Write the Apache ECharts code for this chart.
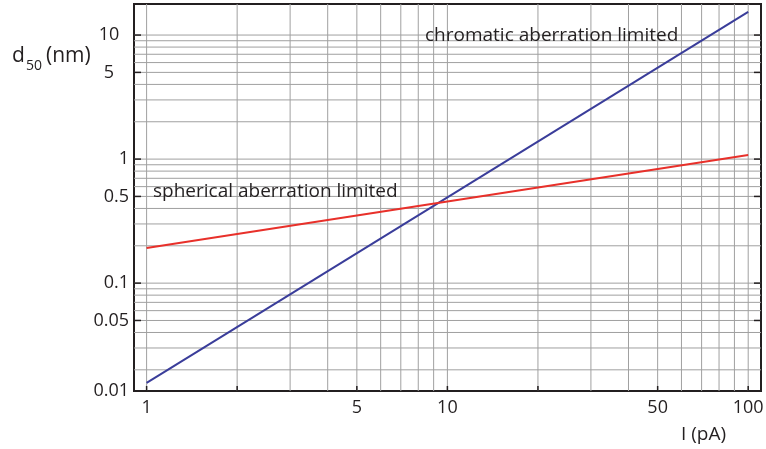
<!DOCTYPE html>
<html><head><meta charset="utf-8">
<script src="https://cdn.jsdelivr.net/npm/echarts@6/dist/echarts.min.js"></script>
<style>html,body{margin:0;padding:0;background:#fff}#c{width:766px;height:449px}</style>
</head><body><div id="c"></div>
<script>
// ---- data ----
const currentPA = [1, 100];
const chromaticNm = [0.0157, 15.4];
const sphericalNm = [0.192, 1.08];
const xGridValues = [1,2,3,4,5,6,7,8,9,10,20,30,40,50,60,70,80,90,100];
const yGridValues = [0.02,0.03,0.04,0.05,0.06,0.07,0.08,0.09,0.1,0.2,0.3,0.4,0.5,0.6,0.7,0.8,0.9,1,2,3,4,5,6,7,8,9,10];
const xTickValues = [1,2,5,10,20,50,100];
const yTickValues = [0.05,0.1,0.5,1,5,10];
const xTickLabels = ['1','5','10','50','100'];
const yTickLabels = ['10','5','1','0.5','0.1','0.05','0.01'];
const X_MIN = 0.908, X_MAX = 110.3, Y_MIN = 0.0135, Y_MAX = 17.8;

const FONT = '"Open Sans", "DejaVu Sans", sans-serif';
const TXT = '#231f20';
const chart = echarts.init(document.getElementById('c'), null, {renderer: 'canvas'});

function gridItem(vertical) {
  return function (params, api) {
    const v = api.value(vertical ? 0 : 1);
    const a = vertical ? api.coord([v, Y_MIN]) : api.coord([X_MIN, v]);
    const b = vertical ? api.coord([v, Y_MAX]) : api.coord([X_MAX, v]);
    return {type: 'line', shape: {x1: a[0], y1: a[1], x2: b[0], y2: b[1]},
      style: {stroke: '#a0a0a0', lineWidth: 1}, silent: true};
  };
}
function tickItem(vertical) {
  return function (params, api) {
    const v = api.value(vertical ? 0 : 1);
    if (vertical) {
      const a = api.coord([v, Y_MIN]);
      return {type: 'line', shape: {x1: a[0], y1: a[1], x2: a[0], y2: a[1] - 5},
        style: {stroke: TXT, lineWidth: 1.5}};
    }
    const l = api.coord([X_MIN, v]), r = api.coord([X_MAX, v]);
    return {type: 'group', children: [
      {type: 'line', shape: {x1: l[0], y1: l[1], x2: l[0] + 7, y2: l[1]}, style: {stroke: TXT, lineWidth: 1.5}},
      {type: 'line', shape: {x1: r[0], y1: r[1], x2: r[0] - 7, y2: r[1]}, style: {stroke: TXT, lineWidth: 1.5}}
    ]};
  };
}
function labelItem(vertical, labels) {
  return function (params, api) {
    const txt = labels[params.dataIndex];
    if (vertical) {
      const p = api.coord([api.value(0), Y_MIN]);
      return {type: 'text', x: p[0], y: p[1] + 17,
        style: {text: txt, fill: TXT, font: '18px ' + FONT, align: 'center', verticalAlign: 'middle'}};
    }
    const v = api.value(1);
    const p = api.coord([X_MIN, Math.max(v, Y_MIN)]);
    const big = v > 1;
    return {type: 'text', x: big ? p[0] - 25 : p[0] - 5, y: p[1],
      style: {text: txt, fill: TXT, font: '18px ' + FONT, align: big ? 'center' : 'right', verticalAlign: 'middle'}};
  };
}

const option = {
  animation: false,
  backgroundColor: '#fff',
  grid: {left: 134, right: 5, top: 4, bottom: 58, show: true, borderColor: TXT, borderWidth: 2, backgroundColor: 'transparent'},
  xAxis: {type: 'log', logBase: 10, min: X_MIN, max: X_MAX,
    axisLine: {show: false}, axisTick: {show: false}, axisLabel: {show: false}, splitLine: {show: false}},
  yAxis: {type: 'log', logBase: 10, min: Y_MIN, max: Y_MAX,
    axisLine: {show: false}, axisTick: {show: false}, axisLabel: {show: false}, splitLine: {show: false}},
  series: [
    {type: 'custom', z: 1, clip: false, renderItem: gridItem(true), data: xGridValues.map(v => [v, Y_MIN])},
    {type: 'custom', z: 1, clip: false, renderItem: gridItem(false), data: yGridValues.map(v => [X_MIN, v])},
    {type: 'custom', z: 5, clip: false, renderItem: tickItem(true), data: xTickValues.map(v => [v, Y_MIN])},
    {type: 'custom', z: 5, clip: false, renderItem: tickItem(false), data: yTickValues.map(v => [X_MIN, v])},
    {type: 'custom', z: 5, clip: false, renderItem: labelItem(true, xTickLabels), data: xTickLabels.map(s => [Number(s), Y_MIN])},
    {type: 'custom', z: 5, clip: false, renderItem: labelItem(false, yTickLabels), data: yTickLabels.map(s => [X_MIN, Number(s)])},
    {name: 'chromatic', type: 'line', z: 3, showSymbol: false, symbol: 'none',
      lineStyle: {color: '#3a3d9a', width: 2}, data: currentPA.map((x, i) => [x, chromaticNm[i]])},
    {name: 'spherical', type: 'line', z: 3, showSymbol: false, symbol: 'none',
      lineStyle: {color: '#e8302a', width: 2}, data: currentPA.map((x, i) => [x, sphericalNm[i]])}
  ],
  graphic: [
    {type: 'text', x: 425, y: 35.5, z: 10, style: {text: 'chromatic aberration limited', fill: TXT, font: '19px ' + FONT, align: 'left', verticalAlign: 'middle'}},
    {type: 'text', x: 153, y: 191.5, z: 10, style: {text: 'spherical aberration limited', fill: TXT, font: '19px ' + FONT, align: 'left', verticalAlign: 'middle'}},
    {type: 'text', x: 12, y: 56, z: 10, style: {text: 'd', fill: TXT, font: '21px ' + FONT, align: 'left', verticalAlign: 'middle'}},
    {type: 'text', x: 26, y: 66, z: 10, style: {text: '50', fill: TXT, font: '14px ' + FONT, align: 'left', verticalAlign: 'middle'}},
    {type: 'text', x: 46, y: 56, z: 10, style: {text: '(nm)', fill: TXT, font: '21px ' + FONT, align: 'left', verticalAlign: 'middle'}},
    {type: 'text', x: 681, y: 435, z: 10, style: {text: 'I (pA)', fill: TXT, font: '19px ' + FONT, align: 'left', verticalAlign: 'middle'}}
  ]
};
chart.setOption(option);
</script></body></html>
